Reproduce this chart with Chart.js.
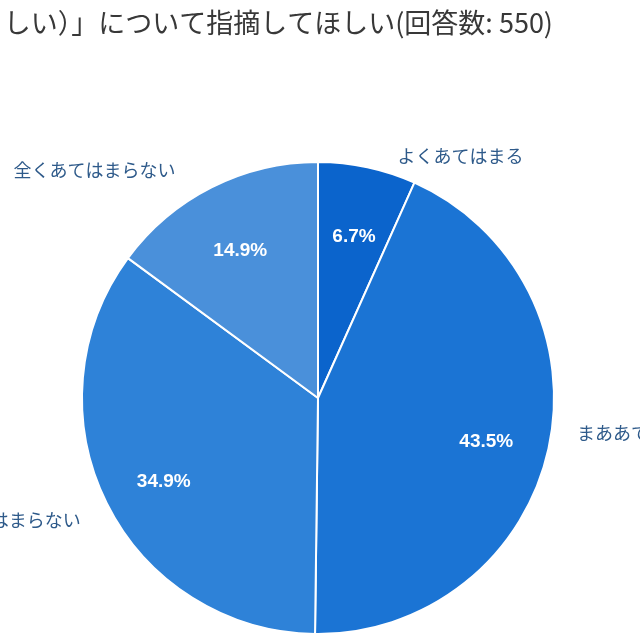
<!DOCTYPE html>
<html>
<head>
<meta charset="utf-8">
<script src="https://cdn.jsdelivr.net/npm/chart.js@4/dist/chart.umd.min.js"></script>
<style>
  html, body { margin: 0; padding: 0; background: #ffffff; overflow: hidden; }
  #wrap { position: relative; width: 640px; height: 640px; }
</style>
</head>
<body>
<div id="wrap"><canvas id="c" width="640" height="640"></canvas></div>
<script>
const titleText = "しい）」について指摘してほしい(回答数: 550)";
const categories = ["よくあてはまる", "まああてはまる", "あまりあてはまらない", "全くあてはまらない"];
const percentages = [6.7, 43.5, 34.9, 14.9];
const sliceColors = ["#0b64cc", "#1b74d4", "#2e82d8", "#4a90da"];

// label placement tweaks (pixels), kept separate from data
const labelNudge = [[26, 9], [9, -20], [-8, 8], [-27, 1]];

const labelPlugin = {
  id: 'pieLabels',
  afterDatasetsDraw(chart) {
    const ctx = chart.ctx;
    const meta = chart.getDatasetMeta(0);
    ctx.save();
    meta.data.forEach((arc, i) => {
      const p = arc.getProps(['x', 'y', 'startAngle', 'endAngle', 'outerRadius'], true);
      const mid = (p.startAngle + p.endAngle) / 2;
      const dx = Math.cos(mid), dy = Math.sin(mid);
      // percentage inside
      const rin = p.outerRadius * 0.73;
      ctx.fillStyle = '#ffffff';
      ctx.font = 'bold 19px "Liberation Sans", Arial, sans-serif';
      ctx.textAlign = 'center';
      ctx.textBaseline = 'middle';
      ctx.fillText(chart.data.datasets[0].data[i].toFixed(1) + '%', p.x + dx * rin, p.y + dy * rin + 7);
      // category outside
      const rout = p.outerRadius + 20;
      const ax = p.x + dx * rout + labelNudge[i][0];
      const ay = p.y + dy * rout + labelNudge[i][1];
      ctx.fillStyle = '#2e5a8a';
      ctx.font = '18px "Noto Sans CJK JP", sans-serif';
      ctx.textAlign = dx >= 0 ? 'left' : 'right';
      ctx.fillText(chart.data.labels[i], ax, ay);
    });
    // title
    ctx.fillStyle = '#383838';
    ctx.font = '27px "Noto Sans CJK JP", sans-serif';
    ctx.textAlign = 'right';
    ctx.textBaseline = 'middle';
    ctx.fillText(titleText, 553, 23);
    ctx.restore();
  }
};

new Chart(document.getElementById('c'), {
  type: 'pie',
  data: {
    labels: categories,
    datasets: [{
      data: percentages,
      backgroundColor: sliceColors,
      borderColor: '#ffffff',
      borderWidth: 2
    }]
  },
  options: {
    responsive: false,
    animation: false,
    layout: { padding: { top: 160, bottom: 4, left: 81, right: 85 } },
    plugins: {
      legend: { display: false },
      tooltip: { enabled: false },
      title: { display: false }
    }
  },
  plugins: [labelPlugin]
});
</script>
</body>
</html>
